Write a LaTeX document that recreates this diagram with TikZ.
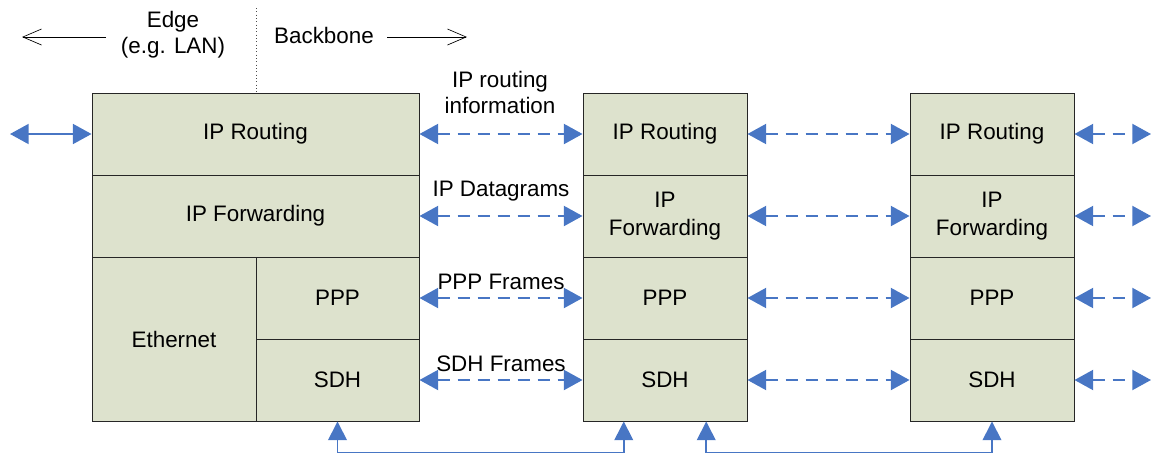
\documentclass[tikz,border=0pt]{standalone}
\usepackage{fontspec}
\setmainfont{Liberation Sans}
\usetikzlibrary{arrows.meta,calc}
\definecolor{cellfill}{RGB}{221,226,205}
\definecolor{linkblue}{RGB}{72,118,196}
\tikzset{
  cell/.style={draw=black!85, line width=0.7pt, fill=cellfill, minimum width=#1, inner sep=0pt, align=center, font=\fontsize{16.8}{21}\selectfont},
  cell/.default=123pt,
  lbl/.style={inner sep=0pt, align=center, font=\fontsize{16.8}{19.5}\selectfont},
  link/.style={linkblue, line width=1.5pt, dash pattern=on 9pt off 6pt, {Triangle[length=14pt,width=15pt]}-{Triangle[length=14pt,width=15pt]}},
  solidlink/.style={linkblue, line width=1.4pt, {Triangle[length=14pt,width=15pt]}-{Triangle[length=14pt,width=15pt]}},
  uplink/.style={linkblue, line width=1.2pt, {Triangle[length=14pt,width=14pt]}-{Triangle[length=14pt,width=14pt]}},
  thinarrow/.style={black, line width=0.5pt, -{Straight Barb[length=14pt,width=12pt,line width=0.5pt]}},
}
\begin{document}
\begin{tikzpicture}[x=0.75pt,y=-0.75pt]
\useasboundingbox (0,0) rectangle (1153,454);
% Box 1
\node[cell=245.25pt, minimum height=61.5pt] (r1) at (255.5,134) {IP Routing};
\node[cell=245.25pt, minimum height=61.5pt] (f1) at (255.5,216) {IP Forwarding};
\node[cell, minimum height=123pt] (eth) at (174,339) {Ethernet};
\node[cell=122.25pt, minimum height=61.5pt] (p1) at (337.5,298) {PPP};
\node[cell=122.25pt, minimum height=61.5pt] (s1) at (337.5,380) {SDH};
% Box 2
\node[cell, minimum height=61.5pt] (r2) at (665,134) {IP Routing};
\node[cell, minimum height=61.5pt] (f2) at (665,216) {IP\\Forwarding};
\node[cell, minimum height=61.5pt] (p2) at (665,298) {PPP};
\node[cell, minimum height=61.5pt] (s2) at (665,380) {SDH};
% Box 3
\node[cell, minimum height=61.5pt] (r3) at (992,134) {IP Routing};
\node[cell, minimum height=61.5pt] (f3) at (992,216) {IP\\Forwarding};
\node[cell, minimum height=61.5pt] (p3) at (992,298) {PPP};
\node[cell, minimum height=61.5pt] (s3) at (992,380) {SDH};
% top legend
\node[lbl] (edge) at (173,35) {Edge\\(e.g. LAN)};
\node[lbl] (bb) at (324,35) {Backbone};
\coordinate (la0) at (106,37);
\coordinate (la1) at (22,37);
\coordinate (ra0) at (387,37);
\coordinate (ra1) at (467,37);
\draw[thinarrow] (la0) -- (la1);
\draw[thinarrow] (ra0) -- (ra1);
\coordinate (dv0) at (256,8);
\coordinate (dv1) at (256,92);
\draw[black!70, line width=0.5pt, dotted] (dv0) -- (dv1);
% labels between boxes
\node[lbl] (l1) at (500,92) {IP routing\\information};
\node[lbl] (l2) at (501,191) {IP Datagrams};
\node[lbl] (l3) at (501,282) {PPP Frames};
\node[lbl] (l4) at (501,364) {SDH Frames};
% links
\coordinate (lin) at (10,134);
\draw[solidlink] (lin) -- (r1.west);
\draw[link] (r1.east) -- (r2.west);
\draw[link] (f1.east) -- (f2.west);
\draw[link] (p1.east) -- (p2.west);
\draw[link] (s1.east) -- (s2.west);
\draw[link] (r2.east) -- (r3.west);
\draw[link] (f2.east) -- (f3.west);
\draw[link] (p2.east) -- (p3.west);
\draw[link] (s2.east) -- (s3.west);
\coordinate (o1) at (1151,134);
\coordinate (o2) at (1151,216);
\coordinate (o3) at (1151,298);
\coordinate (o4) at (1151,380);
\draw[link] (r3.east) -- (o1);
\draw[link] (f3.east) -- (o2);
\draw[link] (p3.east) -- (o3);
\draw[link] (s3.east) -- (o4);
% bottom physical links
\coordinate (s2a) at ($(s2.south west)!0.25!(s2.south east)$);
\coordinate (s2b) at ($(s2.south west)!0.75!(s2.south east)$);
\draw[uplink] (s1.south) -- ++(0,31) -| (s2a);
\draw[uplink] (s2b) -- ++(0,31) -| (s3.south);
\end{tikzpicture}
\end{document}
